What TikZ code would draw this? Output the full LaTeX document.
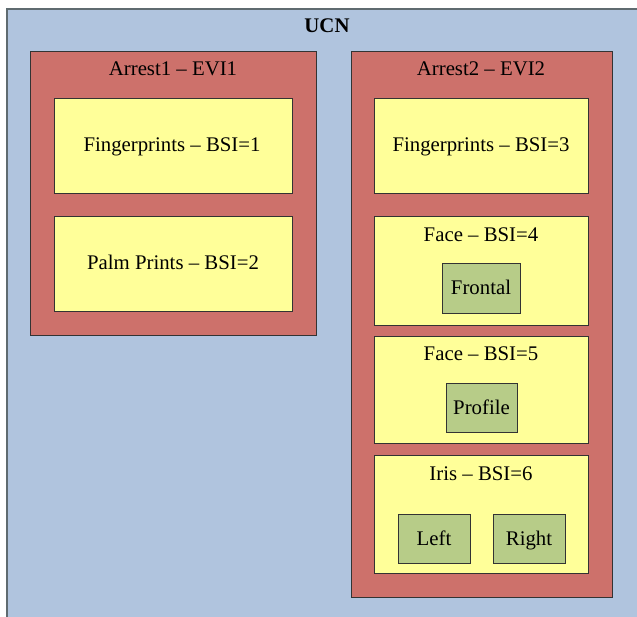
\documentclass[tikz,border=0pt]{standalone}
\usepackage{fontspec}
\setmainfont{Liberation Serif}
\definecolor{ucnblue}{HTML}{B0C4DE}
\definecolor{evired}{HTML}{CD716B}
\definecolor{bsiyellow}{HTML}{FFFF99}
\definecolor{subgreen}{HTML}{B7CC88}
\definecolor{edgegray}{HTML}{5F6B70}
\tikzset{
  box/.style={draw=black!80, line width=0.9pt},
  ucnbox/.style={fill=ucnblue, draw=edgegray, line width=1.6pt},
  evibox/.style={box, fill=evired},
  bsibox/.style={box, fill=bsiyellow},
  subbox/.style={box, fill=subgreen},
  lbl/.style={font=\fontsize{20.8}{24}\selectfont, inner sep=0pt, anchor=base},
}
\begin{document}
\begin{tikzpicture}[x=1pt,y=-1pt]
\useasboundingbox (0,0) rectangle (637,617);
% UCN
\fill[ucnblue] (7,9) rectangle (645,625);
\draw[draw=edgegray, line width=1.6pt] (7,630) -- (7,9) -- (645,9);
\node[lbl, font=\fontsize{20.8}{24}\selectfont\bfseries] (ucn) at (327,33) {UCN};
% Arrest1
\path[evibox] (30,51) rectangle (316,335);
\node[lbl] (a1) at (173,76) {Arrest1 – EVI1};
\path[bsibox] (54,98) rectangle (292,193);
\node[lbl] (b1) at (172,152) {Fingerprints – BSI=1};
\path[bsibox] (54,216) rectangle (292,311);
\node[lbl] (b2) at (173,270) {Palm Prints – BSI=2};
% Arrest2
\path[evibox] (351,51) rectangle (612,597);
\node[lbl] (a2) at (481,76) {Arrest2 – EVI2};
\path[bsibox] (374,98) rectangle (588,193);
\node[lbl] (b3) at (481,152) {Fingerprints – BSI=3};
\path[bsibox] (374,216) rectangle (588,325);
\node[lbl] (b4) at (481,242) {Face – BSI=4};
\path[subbox] (442,263) rectangle (520,313);
\node[lbl] (fr) at (481,295) {Frontal};
\path[bsibox] (374,336) rectangle (588,443);
\node[lbl] (b5) at (481,361) {Face – BSI=5};
\path[subbox] (446,383) rectangle (517,432);
\node[lbl] (pr) at (481.5,414) {Profile};
\path[bsibox] (374,455) rectangle (588,573);
\node[lbl] (b6) at (481,480) {Iris – BSI=6};
\path[subbox] (398,514) rectangle (470,563);
\node[lbl] (le) at (434,545) {Left};
\path[subbox] (493,514) rectangle (565,563);
\node[lbl] (ri) at (529,545) {Right};
\end{tikzpicture}
\end{document}
